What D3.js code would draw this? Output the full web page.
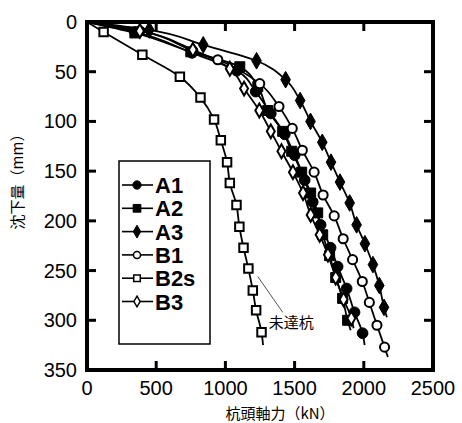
<!DOCTYPE html>
<html>
<head>
<meta charset="utf-8">
<script src="https://cdn.jsdelivr.net/npm/d3@7"></script>
<style>
  body { margin: 0; background: #fff; }
  svg { display: block; }
</style>
</head>
<body>
<div id="chart"></div>
<script>
'use strict';

// pile head load (kN) and settlement (mm)
var names = ['A1', 'A2', 'A3', 'B1', 'B2s', 'B3'];

var loadA1   = [0, 346, 758, 1082, 1219, 1328, 1429, 1501, 1573, 1631, 1688, 1760, 1811, 1876, 1933, 1991];
var settleA1 = [0, 10, 31, 49, 70, 92, 113, 134, 159, 181, 204, 227, 246, 268, 292, 313];

var loadA2   = [0, 346, 750, 1104, 1234, 1306, 1414, 1479, 1551, 1616, 1667, 1703, 1753, 1797, 1847, 1883];
var settleA2 = [0, 11, 30, 45, 65, 89, 110, 130, 151, 172, 192, 214, 235, 257, 278, 300];

var loadA3   = [0, 450, 840, 1225, 1435, 1540, 1615, 1700, 1763, 1828, 1898, 1948, 2008, 2066, 2112, 2146];
var settleA3 = [0, 8, 23, 39, 58, 79, 100, 121, 141, 161, 182, 204, 223, 244, 265, 287];

var loadB1   = [0, 382, 765, 945, 1248, 1387, 1483, 1556, 1641, 1706, 1786, 1851, 1919, 1989, 2040, 2095, 2150];
var settleB1 = [0, 9, 29, 38, 62, 85, 107, 129, 151, 174, 195, 218, 239, 261, 282, 305, 327];

var loadB2s   = [0, 120, 400, 671, 820, 918, 967, 1012, 1032, 1080, 1101, 1131, 1166, 1198, 1222, 1261];
var settleB2s = [0, 10, 33, 55, 76, 98, 119, 141, 162, 184, 206, 227, 248, 270, 290, 312];

var loadB3   = [0, 382, 765, 1032, 1135, 1245, 1328, 1405, 1488, 1561, 1616, 1681, 1741, 1797, 1854, 1910];
var settleB3 = [0, 9, 28, 47, 67, 89, 110, 130, 151, 172, 194, 214, 234, 257, 279, 298];

// where each drawn curve stops, a little past the last measured point
var endLoad   = [2006, 1905, 2167, 2174, 1272, 1926];
var endSettle = [325, 310, 297, 337, 325, 308];

var xTicks = [0, 500, 1000, 1500, 2000, 2500];
var yTicks = [0, 50, 100, 150, 200, 250, 300, 350];

var noteText = '未達杭';
var notePoint = [1313, 308];
var noteLine = [[1234, 256], [1414, 292]];

//---------------------------------------------------------------------------------

var W = 462, H = 423;
var padL = 87, padR = 433, padT = 22, padB = 370;

var svg = d3.select('#chart').append('svg')
  .attr('width', W)
  .attr('height', H);

var x = d3.scaleLinear().domain([0, 2500]).range([padL, padR]);
var y = d3.scaleLinear().domain([0, 350]).range([padT, padB]);

var loads = [loadA1, loadA2, loadA3, loadB1, loadB2s, loadB3];
var settles = [settleA1, settleA2, settleA3, settleB1, settleB2s, settleB3];

var styles = {
  A1:  {shape: d3.symbolCircle,  size: 90,  fill: '#000'},
  A2:  {shape: d3.symbolSquare,  size: 100, fill: '#000'},
  A3:  {shape: d3.symbolDiamond, size: 80,  fill: '#000'},
  B1:  {shape: d3.symbolCircle,  size: 65,  fill: '#fff'},
  B2s: {shape: d3.symbolSquare,  size: 72,  fill: '#fff'},
  B3:  {shape: d3.symbolDiamond, size: 55,  fill: '#fff'}
};

var line = d3.line()
  .x(function(d) { return x(d[0]); })
  .y(function(d) { return y(d[1]); })
  .curve(d3.curveMonotoneY);

var plot = svg.append('g');

names.forEach(function(name, i) {
  var pts = loads[i].map(function(v, j) { return [v, settles[i][j]]; });
  var withEnd = pts.concat([[endLoad[i], endSettle[i]]]);

  plot.append('path')
    .datum(withEnd)
    .attr('d', line)
    .attr('fill', 'none')
    .attr('stroke', '#000')
    .attr('stroke-width', 1.8);
});

names.forEach(function(name, i) {
  var st = styles[name];
  var pts = loads[i].map(function(v, j) { return [v, settles[i][j]]; }).slice(1);

  plot.append('g').selectAll('path')
    .data(pts)
    .enter()
    .append('path')
    .attr('d', d3.symbol().type(st.shape).size(st.size))
    .attr('transform', function(d) { return 'translate(' + x(d[0]) + ',' + y(d[1]) + ')'; })
    .attr('fill', st.fill)
    .attr('stroke', '#000')
    .attr('stroke-width', st.fill === '#fff' ? 2 : 1);
});

// annotation for the pile that did not reach
svg.append('line')
  .attr('x1', x(noteLine[0][0])).attr('y1', y(noteLine[0][1]))
  .attr('x2', x(noteLine[1][0])).attr('y2', y(noteLine[1][1]))
  .attr('stroke', '#555')
  .attr('stroke-width', 1);

svg.append('text')
  .attr('x', x(notePoint[0]))
  .attr('y', y(notePoint[1]))
  .style('font-family', '"Noto Sans CJK JP", sans-serif')
  .style('font-size', '15px')
  .text(noteText);

// frame + inward ticks on all sides
var tickLen = 9;
var axes = svg.append('g').attr('stroke', '#000');

xTicks.slice(1, -1).forEach(function(t) {
  axes.append('line').attr('x1', x(t)).attr('x2', x(t))
    .attr('y1', padB).attr('y2', padB - tickLen).attr('stroke-width', 3);
  axes.append('line').attr('x1', x(t)).attr('x2', x(t))
    .attr('y1', padT).attr('y2', padT + tickLen).attr('stroke-width', 3);
});
yTicks.slice(1, -1).forEach(function(t) {
  axes.append('line').attr('x1', padL).attr('x2', padL + tickLen)
    .attr('y1', y(t)).attr('y2', y(t)).attr('stroke-width', 3);
  axes.append('line').attr('x1', padR).attr('x2', padR - tickLen)
    .attr('y1', y(t)).attr('y2', y(t)).attr('stroke-width', 3);
});

svg.append('rect')
  .attr('x', padL).attr('y', padT)
  .attr('width', padR - padL).attr('height', padB - padT)
  .attr('fill', 'none')
  .attr('stroke', '#000')
  .attr('stroke-width', 4);

svg.append('g').selectAll('text')
  .data(xTicks)
  .enter()
  .append('text')
  .attr('x', function(d) { return x(d); })
  .attr('y', padB + 25)
  .attr('text-anchor', 'middle')
  .style('font-family', '"Liberation Sans", Arial, sans-serif')
  .style('font-size', '20px')
  .text(function(d) { return d; });

svg.append('g').selectAll('text')
  .data(yTicks)
  .enter()
  .append('text')
  .attr('x', padL - 10)
  .attr('y', function(d) { return y(d) + 7; })
  .attr('text-anchor', 'end')
  .style('font-family', '"Liberation Sans", Arial, sans-serif')
  .style('font-size', '20px')
  .text(function(d) { return d; });

svg.append('text')
  .attr('x', 280)
  .attr('y', 419)
  .attr('text-anchor', 'middle')
  .style('font-family', '"Noto Sans CJK JP", sans-serif')
  .style('font-size', '15px')
  .text('杭頭軸力（kN）');

svg.append('text')
  .attr('transform', 'translate(23,178) rotate(-90)')
  .attr('text-anchor', 'middle')
  .style('font-family', '"Noto Sans CJK JP", sans-serif')
  .style('font-size', '15px')
  .text('沈下量（mm）');

// legend
var legend = svg.append('g');
legend.append('rect')
  .attr('x', 119).attr('y', 161)
  .attr('width', 91).attr('height', 183)
  .attr('fill', '#fff')
  .attr('stroke', '#000')
  .attr('stroke-width', 1.5);

names.forEach(function(name, i) {
  var st = styles[name];
  var cy = 185 + i * 23.3;
  legend.append('line')
    .attr('x1', 122).attr('x2', 153)
    .attr('y1', cy).attr('y2', cy)
    .attr('stroke', '#000').attr('stroke-width', 1.6);
  legend.append('path')
    .attr('d', d3.symbol().type(st.shape).size(st.size * 0.6))
    .attr('transform', 'translate(137,' + cy + ')')
    .attr('fill', st.fill)
    .attr('stroke', '#000')
    .attr('stroke-width', st.fill === '#fff' ? 1.5 : 1);
  legend.append('text')
    .attr('x', 155)
    .attr('y', cy + 8)
    .style('font-family', '"Liberation Sans", Arial, sans-serif')
    .style('font-weight', 'bold')
    .style('font-size', '22px')
    .text(name);
});
</script>
</body>
</html>
